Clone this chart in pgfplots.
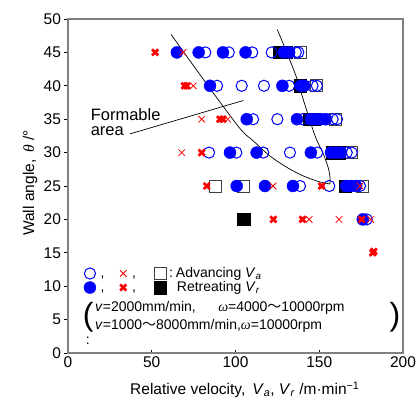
\documentclass[border=0pt]{standalone}
\usepackage{pgfplots}
\pgfplotsset{compat=1.18}
\usepackage{fontspec}
\setmainfont{Liberation Sans}
\newfontfamily\cjk{Noto Sans CJK JP}
\newfontfamily\serif{Liberation Serif}
\definecolor{cblue}{RGB}{0,0,255}
\definecolor{cred}{RGB}{255,0,0}
\definecolor{axgray}{RGB}{128,128,128}
\newcommand{\om}{{\serif\itshape ω}}
\newcommand{\tl}{{\cjk ～}}
\begin{document}
\begin{tikzpicture}
\useasboundingbox (-68pt,-48pt) rectangle (349pt,353pt);
\begin{axis}[
  at={(0,0)}, anchor=south west,
  scale only axis, width=335pt, height=334pt,
  xmin=0, xmax=200, ymin=0, ymax=50,
  xtick={0,50,...,200}, ytick={0,5,...,50},
  axis line style={draw=axgray, line width=1.3pt},
  tick style={black, line width=0.6pt},
  major tick length=3.5pt,
  tick pos=left,
  xtick align=inside, ytick align=outside,
  /pgf/number format/assume math mode=true,
  ticklabel style={font=\fontsize{15.5}{18}\selectfont},
  xlabel={Relative velocity,\, \textit{V}\textsubscript{\textit{a}}, \textit{V}\textsubscript{\textit{r}} /m·min\textsuperscript{−1}},
  ylabel={Wall angle,\, {\serif\itshape θ} /°},
  label style={font=\fontsize{15.5}{18}\selectfont},
  xlabel style={at={(axis description cs:0.528,-0.111)}, anchor=center},
  ylabel style={at={(axis description cs:-0.113,0.509)}, anchor=center},
  clip=false,
]
% open squares (advancing)
\addplot[only marks, mark=square, mark size=6pt, mark options={draw=black!75, line width=0.9pt}] coordinates {
(138.5,45)(148.6,40)(159.4,35)(169,30)(88,25)(104.8,25)(176,25)
(55,11.9)};
% filled squares (retreating)
\addplot[only marks, mark=square*, mark size=6.2pt, mark options={draw=black, fill=black}] coordinates {
(126.5,45)(130,45)(138.5,40)(144,35)(147,35)(157.6,30)(161.8,30)(165.4,25)(104.8,20)
(55,9.8)};
% open circles (advancing)
\addplot[only marks, mark=o, mark size=5.6pt, mark options={draw=cblue, line width=1pt}] coordinates {
(82,45)(96,45)(110,45)(121.6,45)(136,45)(137.5,45)
(89,40)(103.7,40)(117,40)(132,40)(146,40)(148.6,40)
(110.5,35)(125,35)(140,35)(158,35)(160.6,35)
(84.2,30)(100.5,30)(116.6,30)(132.5,30)(148.8,30)(166.4,30)(169.4,30)
(138.5,25)(156,25)(174.3,25)
(178.3,20)
(13.1,11.9)};
% filled circles (retreating)
\addplot[only marks, mark=*, mark size=6pt, mark options={draw=cblue, fill=cblue}] coordinates {
(65,45)(78,45)(92.5,45)(106,45)(129,45)(132,45)
(84.8,40)(128,40)(139,40)(141,40)
(106.7,35)(136.7,35)(145,35)(148,35)(151,35)(154,35)
(96.7,30)(112.6,30)(145,30)(157,30)(160,30)(163,30)
(100.7,25)(117.6,25)(134.3,25)(166,25)(169,25)(172,25)
(176,20)
(13.1,9.8)};
% thin red x (advancing)
\addplot[only marks, mark=x, mark size=4.6pt, mark options={draw=cred, line width=0.8pt}] coordinates {
(68.7,45)(74.8,40)(79.8,35)(95.3,35)(67.9,30)(122.4,25)(174.3,25)(144,20)(161.8,20)(180.7,20)
(33,11.9)};
% bold red x (retreating)
\addplot[only marks, mark=x, mark size=4.3pt, mark options={draw=cred, line width=2.7pt}] coordinates {
(52,45)(69.5,40)(71,40)(90.7,35)(92.5,35)(79.8,30)(82.8,25)(151.4,25)(122.6,20)(140,20)(175.3,20)(182,15)(182.6,15.2)
(33,9.8)};
% boundary lines
\addplot[black, line width=0.7pt, smooth] coordinates {
(61.5,47.7)(83.6,40)(102.7,33.6)(110.4,31.8)(120,29.6)(130.6,27.8)(140.5,26.5)(150.4,25.6)(156.4,25.3)};
\addplot[black, line width=0.7pt, smooth] coordinates {
(125,48.4)(135.5,41.9)(141,37.5)(147.5,32.5)(152.4,29.8)(155.4,27.7)(156.4,26.3)(156.4,25.3)};
\addplot[black, line width=0.7pt] coordinates {(37,32.8)(104.7,37.8)};
% annotation
\node[anchor=west, align=left, inner sep=0pt, font=\fontsize{16.5}{15}\selectfont] at (axis cs:13.5,34.5) {Formable\\area};
% legend text
\begin{scope}[every node/.style={font=\fontsize{14}{16}\selectfont, inner sep=0pt}]
\node[anchor=base] at (axis cs:20.7,11.3) {,};
\node[anchor=base] at (axis cs:39.4,11.3) {,};
\node[anchor=base] at (axis cs:20.7,9.2) {,};
\node[anchor=base] at (axis cs:39.4,9.2) {,};
\node[anchor=west] at (axis cs:60.2,11.9) {:\hspace{3pt}Advancing \textit{V}\textsubscript{\textit{a}}};
\node[anchor=west] at (axis cs:64.9,9.8) {Retreating \textit{V}\textsubscript{\textit{r}}};
\node[anchor=west] at (axis cs:16.1,6.8) {\textit{v}=2000mm/min,};
\node[anchor=west] at (axis cs:89.6,6.8) {\om=4000\tl10000rpm};
\node[anchor=west] at (axis cs:16.1,4.0) {\textit{v}=1000\tl8000mm/min,\om=10000rpm};
\node at (axis cs:11.8,1.9) {:};
\node[font=\fontsize{32}{34}\selectfont] at (axis cs:12.1,5.4) {(};
\node[font=\fontsize{32}{34}\selectfont] at (axis cs:195.2,5.4) {)};
\end{scope}
\end{axis}
\end{tikzpicture}
\end{document}
